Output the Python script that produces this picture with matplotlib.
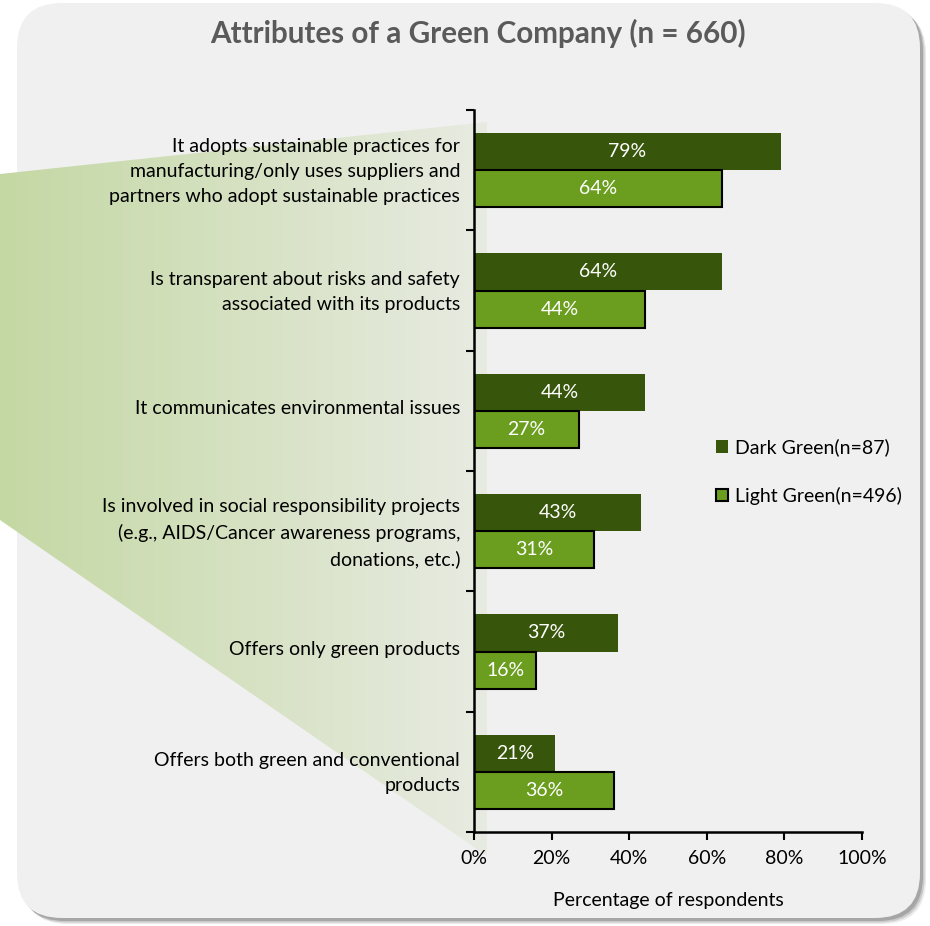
import numpy as np
import matplotlib
matplotlib.use("Agg")
import matplotlib.pyplot as plt
import matplotlib.transforms as mtransforms
from matplotlib.patches import FancyBboxPatch, Polygon, Patch

plt.rcParams['font.family'] = ['Lato', 'DejaVu Sans']

categories = [
    "It adopts sustainable practices for\nmanufacturing/only uses suppliers and\npartners who adopt sustainable practices",
    "Is transparent about risks and safety\nassociated with its products",
    "It communicates environmental issues",
    "Is involved in social responsibility projects\n(e.g., AIDS/Cancer awareness programs,\ndonations, etc.)",
    "Offers only green products",
    "Offers both green and conventional\nproducts",
]
dark_green = [79, 64, 44, 43, 37, 21]
light_green = [64, 44, 27, 31, 16, 36]
series_names = ["Dark Green(n=87)", "Light Green(n=496)"]
x_ticks = [0, 20, 40, 60, 80, 100]

c_dark = '#38560b'
c_light = '#6b9e1f'

W, H = 930, 926
fig = plt.figure(figsize=(W / 100, H / 100), dpi=100)
fig.patch.set_facecolor('white')

# background layer in pixel units
bg = fig.add_axes([0, 0, 1, 1], zorder=0)
bg.set_xlim(0, W)
bg.set_ylim(H, 0)
bg.axis('off')

# soft shadow under the panel
for i, a in enumerate([0.15, 0.25, 0.40]):
    off = 6 - i * 1.5
    sh = FancyBboxPatch((17 + off, 3 + off), 903, 915,
                        boxstyle="round,pad=0,rounding_size=45",
                        fc='#707070', ec='none', alpha=a, zorder=1)
    bg.add_patch(sh)
panel = FancyBboxPatch((17, 3), 903, 915, boxstyle="round,pad=0,rounding_size=45",
                       fc='#f0f0f0', ec='none', zorder=1.5)
bg.add_patch(panel)

# green fading wedge behind the labels
wedge = Polygon([(0, 174), (487, 122), (487, 856), (0, 520)], closed=True,
                fc='none', ec='none')
bg.add_patch(wedge)
left_c = np.array([196, 216, 163]) / 255
right_c = np.array([232, 235, 226]) / 255
t = np.linspace(0, 1, 256)
grad = (left_c[None, :] * (1 - t[:, None]) + right_c[None, :] * t[:, None])[None, :, :]
im = bg.imshow(grad, extent=(0, 487, 926, 0), aspect='auto',
               interpolation='bilinear', zorder=2)
im.set_clip_path(wedge)
bg.set_xlim(0, W)
bg.set_ylim(H, 0)

bg.text(478, 33, "Attributes of a Green Company (n = 660)", ha='center', va='center',
        fontsize=21.3, fontweight='bold', color='#5a5a5a', zorder=3)

# main chart
ax = fig.add_axes([474 / W, 1 - 832 / H, (862 - 474) / W, (832 - 110) / H], zorder=1)
ax.set_facecolor('none')
y = np.arange(len(categories))
h = 0.31
ax.barh(y - h / 2, dark_green, height=h, color=c_dark, edgecolor='none', zorder=2)
ax.barh(y + h / 2, light_green, height=h, color=c_light, edgecolor='black', linewidth=1.5, zorder=2)

for yi, v in zip(y, dark_green):
    ax.text(v / 2, yi - h / 2, f"{v}%", ha='center', va='center', color='white', fontsize=14, zorder=3)
for yi, v in zip(y, light_green):
    ax.text(v / 2, yi + h / 2, f"{v}%", ha='center', va='center', color='white', fontsize=14, zorder=3)

ax.set_xlim(0, 100)
ax.set_ylim(len(categories) - 0.5, -0.5)
ax.set_xticks(x_ticks)
ax.set_xticklabels([f"{v}%" for v in x_ticks], fontsize=14)
ax.set_yticks(np.arange(-0.5, len(categories)))
ax.set_yticklabels([])
ax.set_yticks(y, minor=True)
ax.set_yticklabels(categories, minor=True, fontsize=14, linespacing=1.58)
ax.tick_params(axis='y', which='minor', length=0, pad=10)
ax.tick_params(axis='y', which='major', length=6, width=1.5, direction='out')
ax.tick_params(axis='x', length=6, width=1.5, direction='out', pad=7)

# nudge category labels up a little
shift = mtransforms.ScaledTranslation(0, 4 / 100, fig.dpi_scale_trans)
for lab in ax.get_yticklabels(minor=True):
    lab.set_transform(lab.get_transform() + shift)

for s in ['top', 'right']:
    ax.spines[s].set_visible(False)
for s in ['left', 'bottom']:
    ax.spines[s].set_linewidth(1.8)
ax.set_xlabel("Percentage of respondents", fontsize=14, labelpad=18)

handles = [Patch(facecolor=c_dark, edgecolor='none'),
           Patch(facecolor=c_light, edgecolor='black', linewidth=1.5)]
fig.legend(handles, series_names, loc='upper left', bbox_to_anchor=(706 / W, 1 - 429 / H),
           frameon=False, fontsize=14, handlelength=0.65, handleheight=0.65,
           handletextpad=0.35, labelspacing=1.55, borderpad=0)

fig.savefig("out.png", dpi=100, facecolor='white')
